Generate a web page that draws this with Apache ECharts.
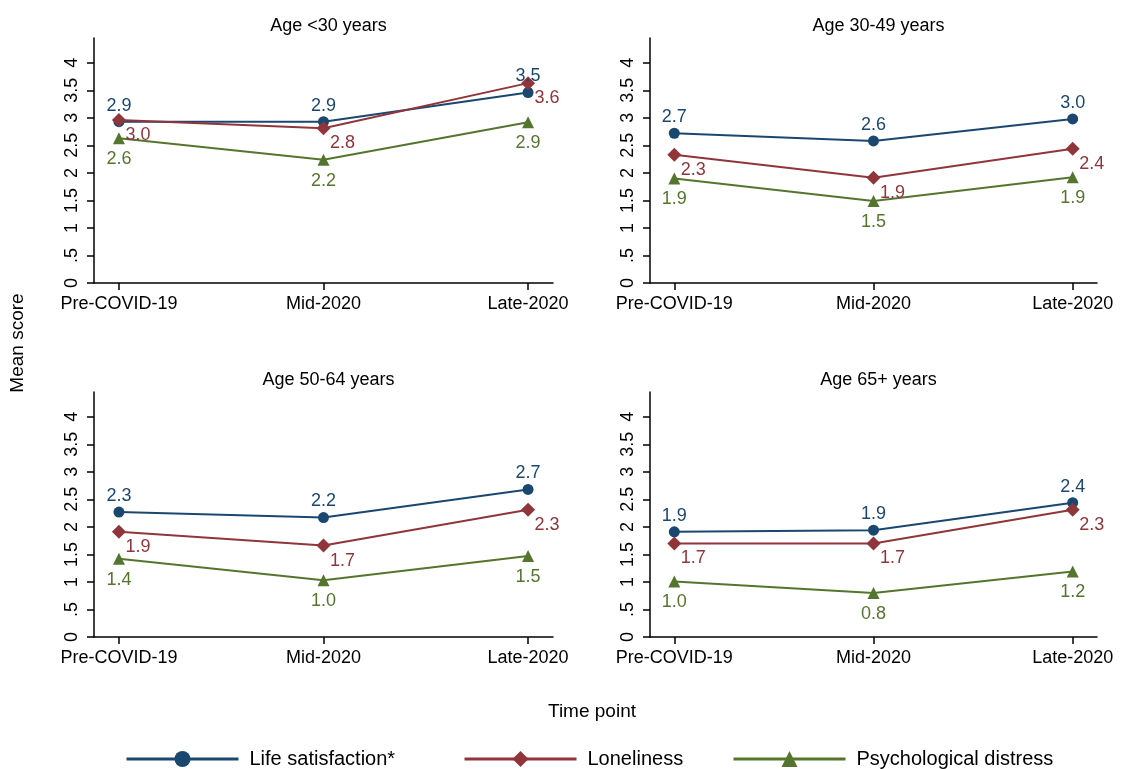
<!DOCTYPE html>
<html>
<head>
<meta charset="utf-8">
<script src="https://cdn.jsdelivr.net/npm/echarts@6/dist/echarts.min.js"></script>
<style>
html,body{margin:0;padding:0;background:#fff;}
#chart{width:1145px;height:769px;}
</style>
</head>
<body>
<div id="chart"></div>
<script>
// ---- data ----
const timePoints = ['Pre-COVID-19', 'Mid-2020', 'Late-2020'];
const panelTitles = ['Age <30 years', 'Age 30-49 years', 'Age 50-64 years', 'Age 65+ years'];
const seriesNames = ['Life satisfaction*', 'Loneliness', 'Psychological distress'];
const lifeSatisfaction = [
  [2.93, 2.93, 3.46],
  [2.72, 2.58, 2.98],
  [2.27, 2.17, 2.68],
  [1.91, 1.94, 2.44]
];
const loneliness = [
  [2.96, 2.81, 3.63],
  [2.33, 1.91, 2.44],
  [1.91, 1.66, 2.31],
  [1.70, 1.70, 2.31]
];
const psychDistress = [
  [2.63, 2.24, 2.92],
  [1.90, 1.49, 1.92],
  [1.42, 1.03, 1.47],
  [1.01, 0.80, 1.19]
];
const yTicks = [0, 0.5, 1, 1.5, 2, 2.5, 3, 3.5, 4];
const yTickLabels = ['0', '.5', '1', '1.5', '2', '2.5', '3', '3.5', '4'];
const yAxisTitle = 'Mean score';
const xAxisTitle = 'Time point';

// ---- styling ----
const FONT = "'Liberation Sans', Arial, sans-serif";
const colors = ['#1a476f', '#90353b', '#55752f'];
const symbols = ['circle', 'diamond', 'triangle'];
const symbolSizes = [11, 14, 12];
const labelOffsets = [[0, -16], [19, 15], [0, 21]];
const allData = [lifeSatisfaction, loneliness, psychDistress];

const grids = [
  {left: 94, top: 38, width: 459, height: 245},
  {left: 650, top: 38, width: 447, height: 245},
  {left: 94, top: 392, width: 459, height: 245},
  {left: 650, top: 392, width: 447, height: 245}
];
const titleTops = [12, 12, 366, 366];

const xAxes = [], yAxes = [], series = [], titles = [];
grids.forEach((g, i) => {
  titles.push({
    text: panelTitles[i],
    left: g.left + g.width / 2,
    top: titleTops[i],
    textAlign: 'center',
    textStyle: {fontFamily: FONT, fontSize: 18, fontWeight: 'normal', color: '#000'}
  });
  xAxes.push({
    gridIndex: i, type: 'value', min: -0.122, max: 2.122,
    axisLine: {show: true, onZero: false, lineStyle: {color: '#000', width: 1.5}},
    axisTick: {show: true, length: 7, lineStyle: {color: '#000', width: 1.5}, customValues: [0, 1, 2]},
    axisLabel: {
      customValues: [0, 1, 2], margin: 12,
      fontFamily: FONT, fontSize: 18, color: '#000',
      formatter: v => timePoints[Math.round(v)]
    },
    splitLine: {show: false}
  });
  yAxes.push({
    gridIndex: i, type: 'value', min: 0, max: 4.45,
    axisLine: {show: true, onZero: false, lineStyle: {color: '#000', width: 1.5}},
    axisTick: {show: true, length: 7, lineStyle: {color: '#000', width: 1.5}, customValues: yTicks},
    axisLabel: {
      customValues: yTicks, margin: 13, rotate: 90,
      fontFamily: FONT, fontSize: 18, color: '#000',
      formatter: v => yTickLabels[yTicks.indexOf(Math.round(v * 2) / 2)]
    },
    splitLine: {show: false}
  });
  allData.forEach((d, s) => {
    series.push({
      name: seriesNames[s], type: 'line',
      xAxisIndex: i, yAxisIndex: i,
      data: d[i].map((v, k) => [k, v]),
      symbol: symbols[s], symbolSize: symbolSizes[s],
      lineStyle: {color: colors[s], width: 2},
      itemStyle: {color: colors[s]},
      label: {
        show: true, position: 'inside', offset: labelOffsets[s],
        fontFamily: FONT, fontSize: 18, color: colors[s],
        formatter: p => p.value[1].toFixed(1)
      },
      emphasis: {disabled: true}
    });
  });
});

const legendLefts = [120, 458, 727];
const legends = seriesNames.map((n, s) => ({
  data: [n], left: legendLefts[s], top: 744,
  itemWidth: 112, itemHeight: 20,
  lineStyle: {width: 3},
  textStyle: {fontFamily: FONT, fontSize: 20, color: '#000', padding: [0, 0, 0, 6]},
  selectedMode: false
}));

const chart = echarts.init(document.getElementById('chart'), null, {renderer: 'canvas'});
chart.setOption({
  animation: false,
  backgroundColor: '#fff',
  title: titles,
  grid: grids,
  xAxis: xAxes,
  yAxis: yAxes,
  legend: legends,
  series: series,
  graphic: [
    {type: 'text', x: 18, y: 343, rotation: Math.PI / 2,
     style: {text: yAxisTitle, fontFamily: FONT, fontSize: 19, fill: '#000', align: 'center', verticalAlign: 'middle'}},
    {type: 'text', x: 592, y: 712,
     style: {text: xAxisTitle, fontFamily: FONT, fontSize: 19, fill: '#000', align: 'center', verticalAlign: 'middle'}}
  ]
});
</script>
</body>
</html>
